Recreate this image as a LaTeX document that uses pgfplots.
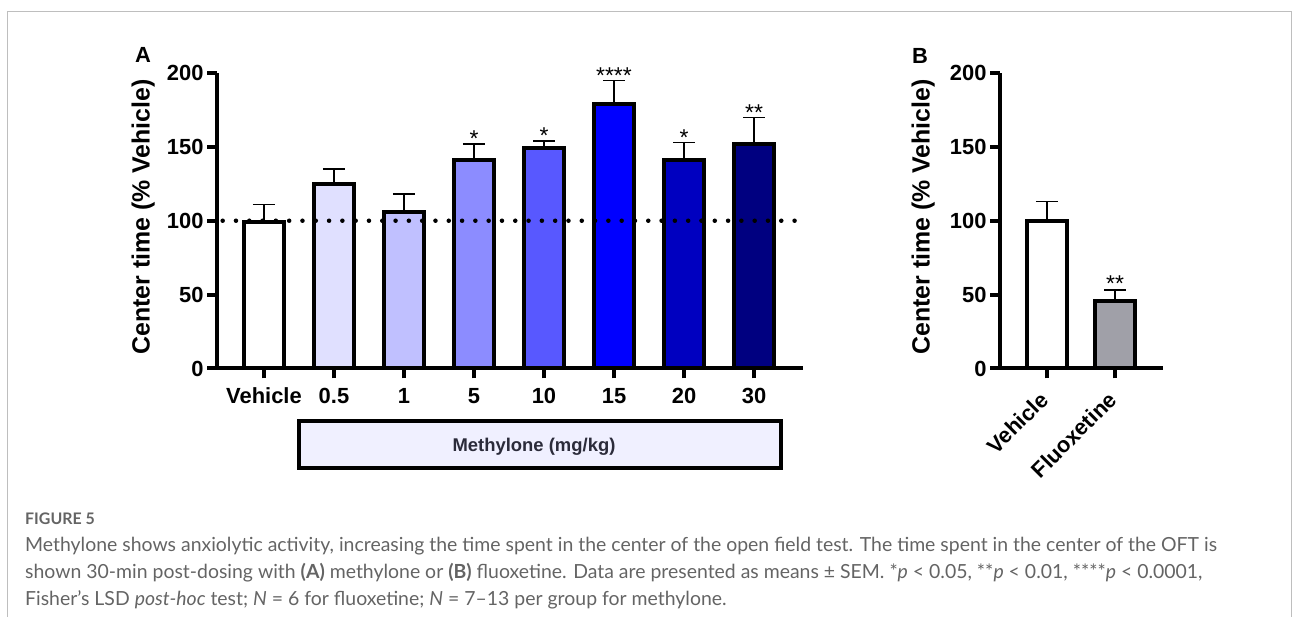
\documentclass[border=0pt]{standalone}
\usepackage{pgfplots}
\pgfplotsset{compat=1.18}
\usepackage{fontspec}
\setmainfont{Liberation Sans}
\newfontfamily\capfont{Lato}
\definecolor{cveh}{RGB}{255,255,255}
\definecolor{c05}{RGB}{224,224,255}
\definecolor{c1}{RGB}{192,192,255}
\definecolor{c5}{RGB}{140,140,255}
\definecolor{c10}{RGB}{88,88,255}
\definecolor{c15}{RGB}{0,0,255}
\definecolor{c20}{RGB}{0,0,192}
\definecolor{c30}{RGB}{0,0,128}
\definecolor{cflx}{RGB}{160,160,168}
\definecolor{cbox}{RGB}{240,240,255}
\definecolor{cboxtxt}{RGB}{43,43,58}
\definecolor{capgray}{RGB}{100,100,100}
\definecolor{framegray}{RGB}{190,190,190}
\pgfplotsset{
  chart/.style={
    scale only axis, height=295.5bp,
    ymin=0, ymax=200, ytick={0,50,100,150,200},
    axis x line*=bottom, axis y line*=left,
    axis line style={line width=4bp, black},
    tick style={line width=4bp, black},
    major tick length=10bp, tick align=outside,
    ybar, bar width=40bp, bar shift=0pt,
    every axis plot/.append style={draw=black, line width=4bp},
    /pgf/number format/assume math mode=true,
    tick label style={font=\fontsize{22}{24}\selectfont\bfseries},
    ylabel={Center time (\% Vehicle)},
    ylabel style={font=\fontsize{25}{28}\selectfont\bfseries, anchor=center},
    error bars/y dir=plus, error bars/y explicit,
    error bars/error bar style={line width=1.6bp, black},
    error bars/error mark options={rotate=90, mark size=11bp, line width=1.6bp, black},
    clip=false,
  }
}
\tikzset{star/.style={font=\fontsize{23}{24}\selectfont, anchor=south, inner sep=0pt}}
\begin{document}
\begin{tikzpicture}[x=1bp,y=1bp]
\useasboundingbox (0,0) rectangle (1293,617);
\draw[color=framegray, line width=1.3bp] (7.5,0) -- (7.5,605.5) -- (1291.5,605.5) -- (1291.5,0);

% Panel A
\begin{axis}[chart, at={(217bp,248.5bp)}, anchor=south west, width=586bp,
  xmin=-0.671, xmax=7.70, xtick={0,...,7},
  xticklabels={Vehicle,0.5,1,5,10,15,20,30},
  xticklabel style={yshift=-6bp},
  ylabel style={at={(axis description cs:-0.126,0.513)}}]
\addplot[fill=cveh] coordinates {(0,99) +- (0,12)};
\addplot[fill=c05] coordinates {(1,125) +- (0,10)};
\addplot[fill=c1] coordinates {(2,106) +- (0,12)};
\addplot[fill=c5] coordinates {(3,141) +- (0,11)};
\addplot[fill=c10] coordinates {(4,149) +- (0,5)};
\addplot[fill=c15] coordinates {(5,179) +- (0,16)};
\addplot[fill=c20] coordinates {(6,141) +- (0,12)};
\addplot[fill=c30] coordinates {(7,152) +- (0,18)};
\addplot[sharp plot, no marks, fill=none, draw=black, line width=4.5bp, line cap=round, dash pattern=on 0pt off 13.3bp, error bars/y dir=none] coordinates {(-0.59,100) (7.58,100)};
\node[star] at (axis cs:3,150) {*};
\node[star] at (axis cs:4,152) {*};
\node[star] at (axis cs:5,193) {****};
\node[star] at (axis cs:6,151) {*};
\node[star] at (axis cs:7,168) {**};
\end{axis}

% Methylone box
\draw[line width=4bp, fill=cbox] (299,149) rectangle (781,196);
\node[font=\fontsize{18.5}{20}\selectfont\bfseries, text=cboxtxt] at (534,170.5) {Methylone (mg/kg)};

% Panel B
\begin{axis}[chart, at={(1000bp,248.5bp)}, anchor=south west, width=163bp,
  xmin=-0.684, xmax=1.70, xtick={0,1},
  xticklabels={Vehicle,Fluoxetine},
  xticklabel style={yshift=-16bp, xshift=-1bp, rotate=45, anchor=east, inner sep=2bp},
  ylabel style={at={(axis description cs:-0.472,0.513)}}]
\addplot[fill=cveh] coordinates {(0,100) +- (0,13)};
\addplot[fill=cflx] coordinates {(1,46) +- (0,7)};
\node[star] at (axis cs:1,52) {**};
\end{axis}

\node[font=\fontsize{22}{24}\selectfont\bfseries] at (143,562) {A};
\node[font=\fontsize{22}{24}\selectfont\bfseries] at (920,561) {B};

% Caption
\begin{scope}[every node/.style={anchor=west, inner sep=0pt, text=capgray}]
\node[font=\capfont\fontsize{16}{18}\selectfont\bfseries] at (25,98) {FIGURE 5};
\node[font=\capfont\fontsize{19.5}{22}\selectfont] at (25,71) {Methylone shows anxiolytic activity, increasing the time spent in the center of the open field test. The time spent in the center of the OFT is};
\node[font=\capfont\fontsize{19.5}{22}\selectfont] at (25,44) {shown 30-min post-dosing with \textbf{(A)} methylone or \textbf{(B)} fluoxetine. Data are presented as means ± SEM. *\textit{p} < 0.05, **\textit{p} < 0.01, ****\textit{p} < 0.0001,};
\node[font=\capfont\fontsize{19.5}{22}\selectfont] at (25,17) {Fisher’s LSD \textit{post-hoc} test; \textit{N} = 6 for fluoxetine; \textit{N} = 7–13 per group for methylone.};
\end{scope}
\end{tikzpicture}
\end{document}
